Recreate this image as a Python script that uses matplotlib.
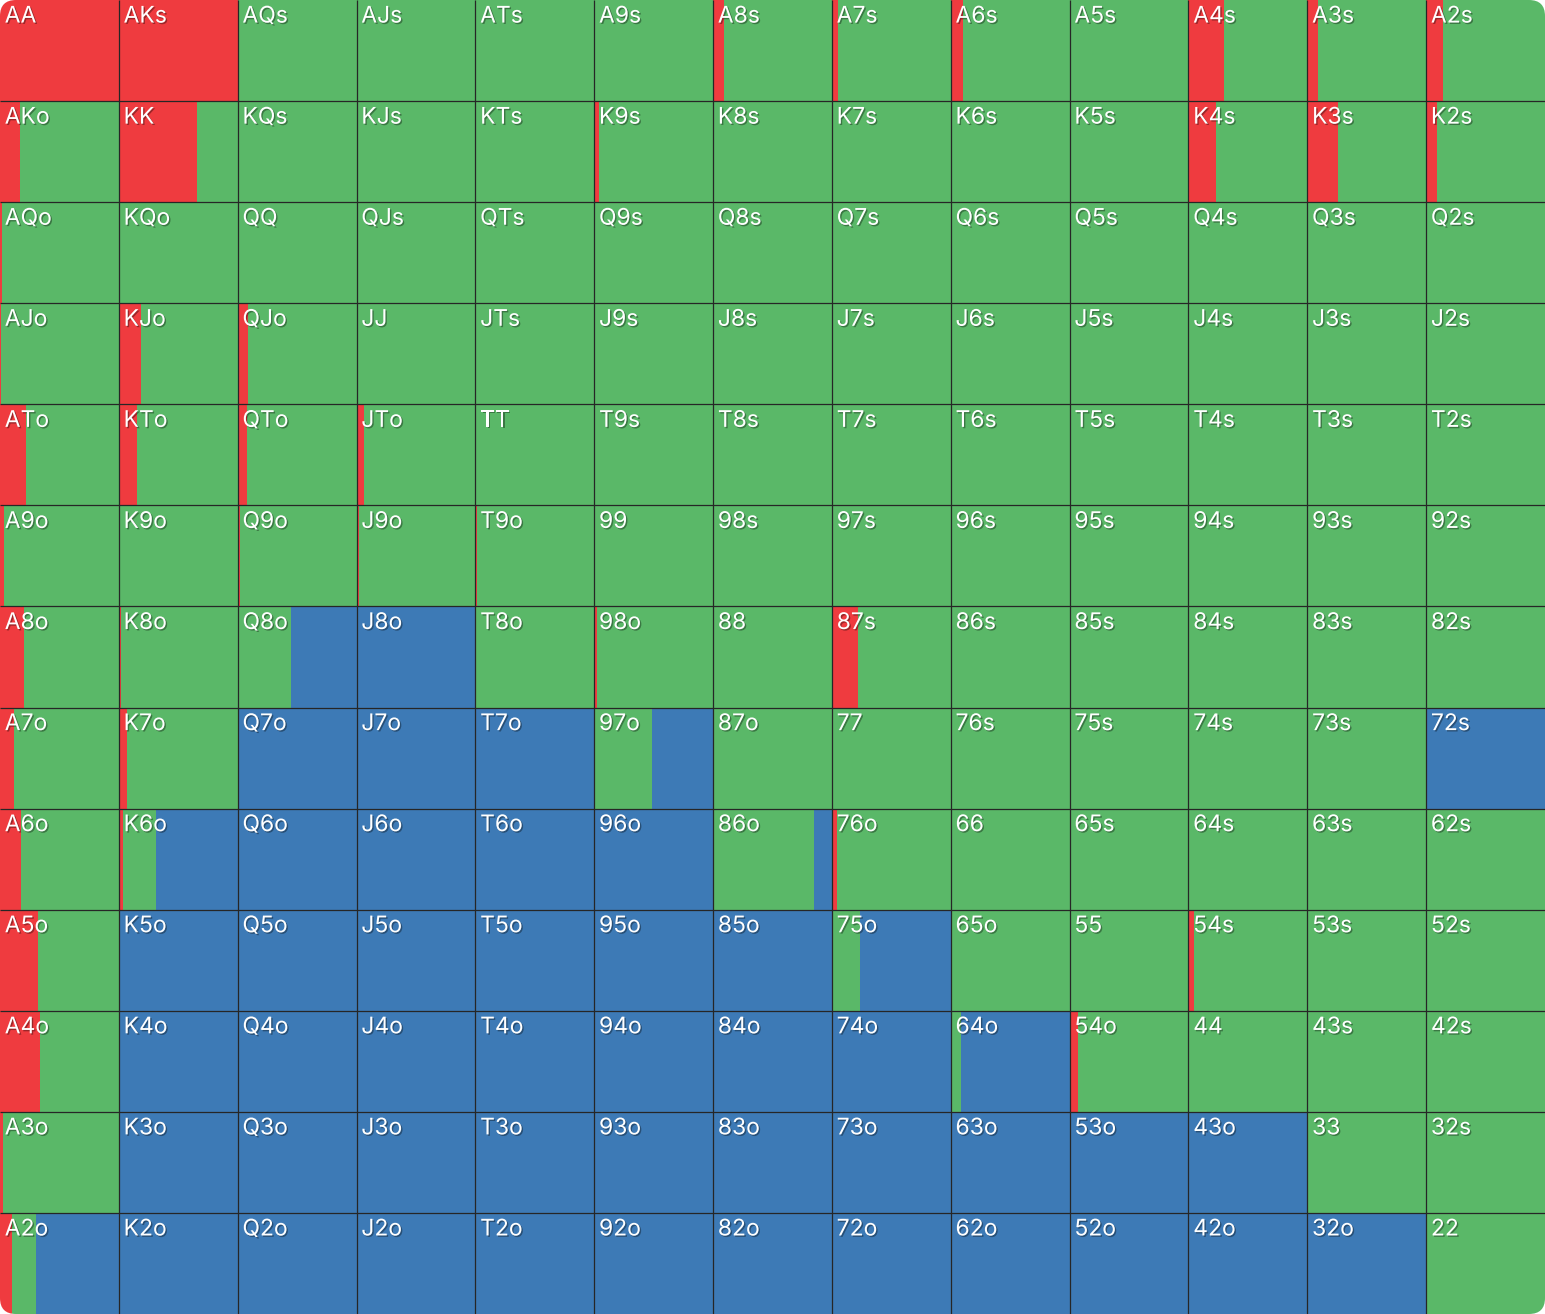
import numpy as np
import matplotlib.pyplot as plt
import matplotlib.patheffects as pe
from matplotlib.patches import FancyBboxPatch
from matplotlib.transforms import IdentityTransform

# hand grid, rows/cols in rank order
ranks = list("AKQJT98765432")

# raise share per cell (red)
raise_freq = [
    [1.0, 1.0, 0, 0, 0, 0, 0.095, 0.05, 0.105, 0, 0.30, 0.09, 0.14],
    [0.17, 0.66, 0, 0, 0, 0.04, 0, 0, 0, 0, 0.235, 0.255, 0.095],
    [0.015, 0, 0, 0, 0, 0, 0, 0, 0, 0, 0.005, 0, 0],
    [0.01, 0.19, 0.09, 0, 0, 0, 0, 0, 0, 0, 0, 0, 0],
    [0.22, 0.15, 0.08, 0.06, 0, 0, 0, 0, 0, 0, 0, 0, 0],
    [0.03, 0, 0.02, 0.02, 0.015, 0, 0, 0, 0, 0, 0, 0, 0],
    [0.20, 0.02, 0.015, 0, 0, 0.02, 0, 0.22, 0, 0, 0, 0, 0],
    [0.12, 0.07, 0, 0, 0, 0, 0, 0, 0.01, 0, 0, 0, 0],
    [0.18, 0.033, 0, 0, 0, 0, 0, 0.045, 0, 0, 0, 0, 0],
    [0.32, 0.008, 0, 0, 0, 0, 0, 0, 0, 0, 0.045, 0, 0],
    [0.34, 0, 0, 0, 0, 0, 0, 0, 0, 0.07, 0, 0, 0],
    [0.025, 0, 0, 0, 0, 0, 0, 0, 0, 0, 0, 0, 0],
    [0.10, 0, 0, 0, 0, 0, 0, 0, 0, 0, 0, 0, 0],
]

# call share per cell (green)
call_freq = [
    [0, 0, 1, 1, 1, 1, 0.905, 0.95, 0.895, 1, 0.70, 0.91, 0.86],
    [0.83, 0.34, 1, 1, 1, 0.96, 1, 1, 1, 1, 0.765, 0.745, 0.905],
    [0.985, 1, 1, 1, 1, 1, 1, 1, 1, 1, 0.995, 1, 1],
    [0.99, 0.81, 0.91, 1, 1, 1, 1, 1, 1, 1, 1, 1, 1],
    [0.78, 0.85, 0.92, 0.94, 1, 1, 1, 1, 1, 1, 1, 1, 1],
    [0.97, 1, 0.98, 0.98, 0.985, 1, 1, 1, 1, 1, 1, 1, 1],
    [0.80, 0.98, 0.435, 0, 1, 0.98, 1, 0.78, 1, 1, 1, 1, 1],
    [0.88, 0.93, 0, 0, 0, 0.49, 1, 1, 0.99, 1, 1, 1, 0],
    [0.82, 0.28, 0, 0, 0, 0, 0.85, 0.955, 1, 1, 1, 1, 1],
    [0.68, 0, 0, 0, 0, 0, 0, 0.24, 1, 1, 0.955, 1, 1],
    [0.66, 0, 0, 0, 0, 0, 0, 0, 0.085, 0.93, 1, 1, 1],
    [0.975, 0, 0, 0, 0, 0, 0, 0, 0, 0, 0, 1, 1],
    [0.20, 0, 0, 0, 0, 0, 0, 0, 0, 0, 0, 0, 1],
]

RED = '#EF3B3F'
GREEN = '#5AB868'
BLUE = '#3D7AB6'

fig = plt.figure(figsize=(15.45, 13.14), dpi=100)
ax = fig.add_axes([0, 0, 1, 1])
ax.set_xlim(0, 13)
ax.set_ylim(13, 0)
ax.axis('off')

# rounded outer corners
clip = FancyBboxPatch((0, 0), 1545, 1314, boxstyle="round,pad=0,rounding_size=16",
                      transform=IdentityTransform(), facecolor='none', edgecolor='none')

cols = np.arange(13)
for i in range(13):
    r = np.array(raise_freq[i])
    c = np.array(call_freq[i])
    f = 1 - r - c
    y = np.full(13, i + 0.5)
    for width, left, color in [(r, cols, RED), (c, cols + r, GREEN), (f, cols + r + c, BLUE)]:
        bars = ax.barh(y, width, left=left, height=1, color=color, linewidth=0)
        for b in bars:
            b.set_clip_path(clip)

lines = ax.vlines(range(1, 13), 0, 13, color='#262626', lw=0.9)
lines.set_clip_path(clip)
lines = ax.hlines(range(1, 13), 0, 13, color='#262626', lw=0.9)
lines.set_clip_path(clip)

shadow = [pe.withSimplePatchShadow(offset=(1, -1), shadow_rgbFace='black', alpha=0.35)]
for i in range(13):
    for j in range(13):
        if i == j:
            label = ranks[i] + ranks[j]
        elif j > i:
            label = ranks[i] + ranks[j] + 's'
        else:
            label = ranks[j] + ranks[i] + 'o'
        ax.text(j + 0.04, i + 0.055, label, color='white', fontsize=16.5,
                family='Inter', ha='left', va='top', path_effects=shadow)

fig.savefig('out.png', dpi=100, facecolor='white')
